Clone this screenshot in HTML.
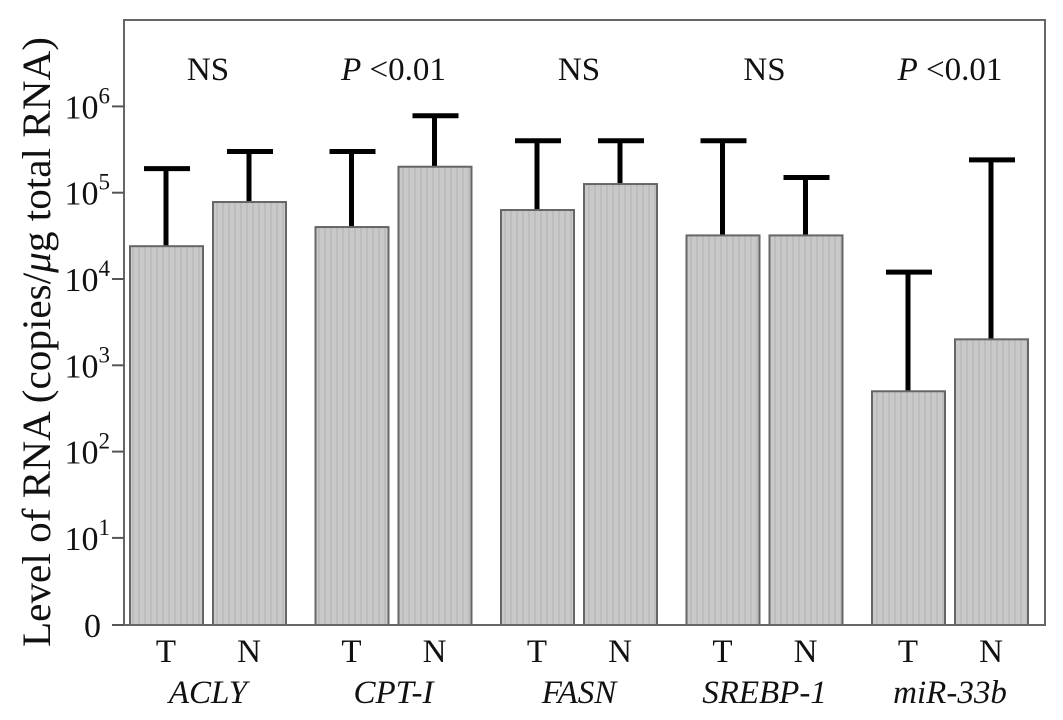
<!DOCTYPE html>
<html><head><meta charset="utf-8"><style>
body{margin:0;background:#fff;}
svg text{font-family:"Liberation Serif",serif;fill:#111;}
</style></head><body>
<svg width="1063" height="715" viewBox="0 0 1063 715">
<defs><pattern id="st" width="6" height="10" patternUnits="userSpaceOnUse"><rect width="6" height="10" fill="#c9c9c9"/><rect width="2" height="10" fill="#bdbdbd"/></pattern></defs>
<rect x="124" y="20" width="921" height="605" fill="none" stroke="#666" stroke-width="2"/>
<g id="ticks"></g><g id="bars"></g>
<text transform="translate(50,342) rotate(-90)" text-anchor="middle" font-size="40" textLength="610" lengthAdjust="spacingAndGlyphs">Level of RNA (copies/<tspan font-style="italic">μ</tspan>g total RNA)</text>
</svg>
<script>
const genes=["ACLY","CPT-I","FASN","SREBP-1","miR-33b"];
const sig=["NS","P<0.01","NS","NS","P<0.01"];
const tVals=[24000,40000,63000,32000,500];
const tErr=[190000,300000,400000,400000,12000];
const nVals=[78000,200000,126000,32000,2000];
const nErr=[300000,780000,400000,150000,240000];
const tickExp=[1,2,3,4,5,6];
const NS="http://www.w3.org/2000/svg";
function y(v){return 279-86.3*(Math.log10(v)-4);}
function mk(t,a,p){const e=document.createElementNS(NS,t);for(const k in a)e.setAttribute(k,a[k]);(p||document.querySelector('svg')).appendChild(e);return e;}
const tg=document.getElementById('ticks'),bg=document.getElementById('bars');
let z=mk('line',{x1:112,x2:124,y1:625,y2:625,stroke:'#555','stroke-width':2},tg);

let zl=mk('text',{x:101,y:637,'text-anchor':'end','font-size':34},tg);zl.textContent='0';

tickExp.forEach(e=>{const yy=y(Math.pow(10,e));
 const l=mk('line',{x1:112,x2:124,y1:yy,y2:yy,stroke:'#555','stroke-width':2},tg);
 
 const t=mk('text',{x:110,y:yy+12,'text-anchor':'end','font-size':34},tg);
 t.innerHTML='10<tspan dy="-15" font-size="23">'+e+'</tspan>';
 
});
function bar(x,v,err,name){
 const top=y(v);
 const eb=mk('line',{x1:x+36,x2:x+36,y1:top,y2:y(err),stroke:'#000','stroke-width':5},bg);
 
 const cp=mk('line',{x1:x+14,x2:x+60,y1:y(err),y2:y(err),stroke:'#000','stroke-width':5},bg);
 
 const r=mk('rect',{x:x,y:top,width:73,height:625-top,fill:'url(#st)',stroke:'#666','stroke-width':2},bg);
 
}
genes.forEach((g,i)=>{
 const x0=130+i*185.5;
 bar(x0,tVals[i],tErr[i],g+'-T');
 bar(x0+83,nVals[i],nErr[i],g+'-N');
 const a=mk('text',{x:x0+36,y:662,'text-anchor':'middle','font-size':33},bg);a.textContent='T';
 
 const b=mk('text',{x:x0+119,y:662,'text-anchor':'middle','font-size':33},bg);b.textContent='N';
 
 const gl=mk('text',{x:x0+78,y:703,'text-anchor':'middle','font-size':33,'font-style':'italic'},bg);gl.textContent=g;
 
 const s=mk('text',{x:x0+78,y:80,'text-anchor':'middle','font-size':33},bg);
 if(sig[i]==='NS')s.textContent='NS';else s.innerHTML='<tspan font-style="italic">P</tspan> &lt;0.01';
 
});
</script>
</body></html>
